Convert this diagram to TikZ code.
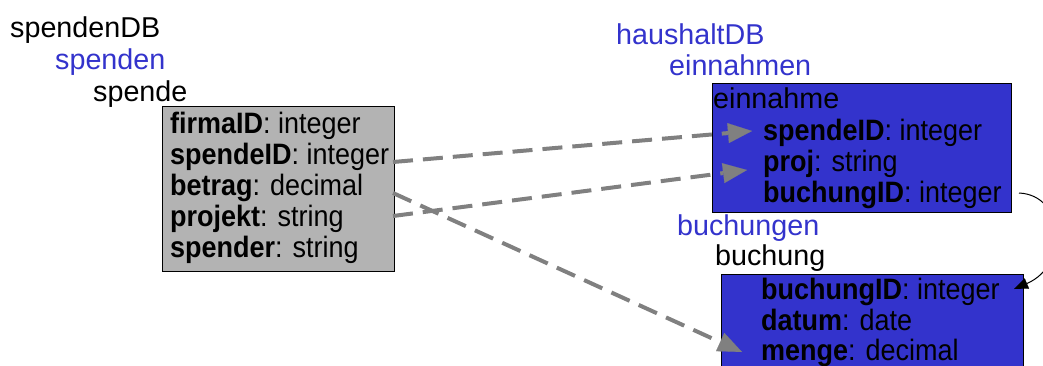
\documentclass[tikz,border=0pt]{standalone}
\usepackage{fontspec}
\setmainfont{Liberation Sans}
\newfontfamily\fieldfont[FakeStretch=0.915]{Liberation Sans}
\usetikzlibrary{arrows.meta}
\definecolor{lblblue}{RGB}{51,51,204}
\definecolor{boxblue}{RGB}{51,51,204}
\definecolor{boxgray}{RGB}{179,179,179}
\definecolor{arrgray}{RGB}{128,128,128}
\tikzset{
  lbl/.style={anchor=base west, inner sep=0pt, font=\fontsize{28.7}{31}\selectfont},
  blbl/.style={lbl, text=lblblue},
  fld/.style={anchor=base west, inner sep=0pt, font=\fieldfont\fontsize{29.5}{31}\selectfont},
  tablebox/.style={draw=black, line width=1pt},
  link/.style={arrgray, line width=4pt, dash pattern=on 20pt off 10pt,
    -{Triangle[length=24pt,width=20pt,line width=0.1pt]}},
  selflink/.style={black, line width=1pt,
    -{Triangle[length=14pt,width=11pt,line width=0.1pt]}}
}
\begin{document}
\begin{tikzpicture}[x=1pt,y=-1pt]
\useasboundingbox (0,0) rectangle (1043,365);
\clip (0,0) rectangle (1043,365);
% left side
\node[lbl]  (spendenDB) at (10,37)  {spendenDB};
\node[blbl] (spenden)   at (55,69)  {spenden};
\node[lbl]  (spende)    at (93,101) {spende};
\path[tablebox, fill=boxgray] (162,106) rectangle (394,271);
\node[fld] (sfirma)   at (170,133) {\textbf{firmaID}: integer};
\node[fld] (sspende)  at (170,164) {\textbf{spendeID}: integer};
\node[fld] (sbetrag)  at (170,195) {\textbf{betrag}: decimal};
\node[fld] (sprojekt) at (170,226) {\textbf{projekt}: string};
\node[fld] (sspender) at (170,257) {\textbf{spender}: string};
% right side
\node[blbl] (haushaltDB) at (616,44) {haushaltDB};
\node[blbl] (einnahmen)  at (669,75) {einnahmen};
\path[tablebox, fill=boxblue] (712,83) rectangle (1011,212);
\node[lbl] (einnahme) at (713,108) {einnahme};
\node[fld] (espende) at (763,140) {\textbf{spendeID}: integer};
\node[fld] (eproj)   at (763,171) {\textbf{proj}: string};
\node[fld] (ebuch)   at (763,202) {\textbf{buchungID}: integer};
\node[blbl] (buchungen) at (677,235) {buchungen};
\node[lbl]  (buchung)   at (715,265) {buchung};
\path[tablebox, fill=boxblue] (721,274) rectangle (1023,400);
\node[fld] (bbuch)  at (761,299) {\textbf{buchungID}: integer};
\node[fld] (bdatum) at (761,330) {\textbf{datum}: date};
\node[fld] (bmenge) at (761,360) {\textbf{menge}: decimal};
% connector end points
\coordinate (sspendeR)  at (393,162);
\coordinate (sbetragR)  at (393,193);
\coordinate (sprojektR) at (393,216);
\coordinate (espendeL)  at (752,131);
\coordinate (eprojL)    at (747,170);
\coordinate (bmengeL)   at (742,352);
\coordinate (ebuchR)    at (1019,193);
\coordinate (bbuchR)    at (1014,289);
% connectors
\draw[link] (sspendeR) -- (espendeL);
\draw[link] (sprojektR) -- (eprojL);
\draw[link] (sbetragR) -- (bmengeL);
\draw[selflink] (ebuchR) .. controls (1065,195) and (1070,265) .. (bbuchR);
\end{tikzpicture}
\end{document}
